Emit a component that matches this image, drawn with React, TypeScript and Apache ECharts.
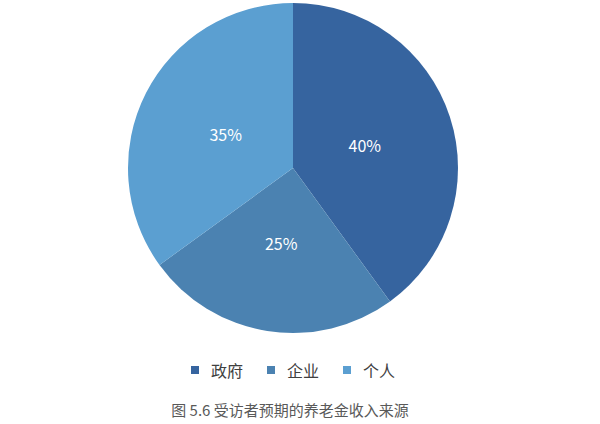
import { useEffect, useRef } from "react";
import * as echarts from "echarts";

const categories = ["政府", "企业", "个人"];
const values = [40, 25, 35];
const colors = ["#36649f", "#4b82b1", "#5b9fd1"];
const caption = "图 5.6 受访者预期的养老金收入来源";

const font = "'Noto Sans CJK SC', 'Noto Sans', sans-serif";

export default function App() {
  const ref = useRef<HTMLDivElement>(null);

  useEffect(() => {
    document.body.style.margin = "0";
    const el = ref.current;
    if (!el) return;
    const chart = echarts.init(el, undefined, { renderer: "svg" });
    const data = categories.map((name, i) => ({ name, value: values[i] }));
    chart.setOption({
      animation: false,
      backgroundColor: "#ffffff",
      textStyle: { fontFamily: font },
      color: colors,
      title: {
        text: caption,
        left: 290,
        textAlign: "center",
        top: 402,
        padding: 0,
        textStyle: { fontSize: 15, fontWeight: "normal", color: "#595959", fontFamily: font },
      },
      legend: {
        data: categories,
        left: 191,
        top: 362,
        padding: 0,
        itemWidth: 8,
        itemHeight: 8,
        itemGap: 24,
        icon: "rect",
        textStyle: { fontSize: 16, color: "#404040", fontFamily: font, padding: [0, 0, 0, 7] },
      },
      series: [
        {
          type: "pie",
          center: [293, 168],
          radius: 165,
          startAngle: 90,
          clockwise: true,
          data,
          label: { show: false },
          labelLine: { show: false },
          emphasis: { disabled: true },
        },
        {
          // label-only ring so the percentages sit a little closer to the centre
          type: "pie",
          center: [293, 168],
          radius: 145,
          startAngle: 90,
          clockwise: true,
          silent: true,
          data,
          itemStyle: { color: "transparent" },
          label: {
            position: "inside",
            formatter: "{c}%",
            color: "#ffffff",
            fontSize: 16,
            fontFamily: font,
          },
          labelLine: { show: false },
          emphasis: { disabled: true },
        },
      ],
    });
    return () => {
      chart.dispose();
    };
  }, []);

  return <div ref={ref} style={{ width: 600, height: 424 }} />;
}
